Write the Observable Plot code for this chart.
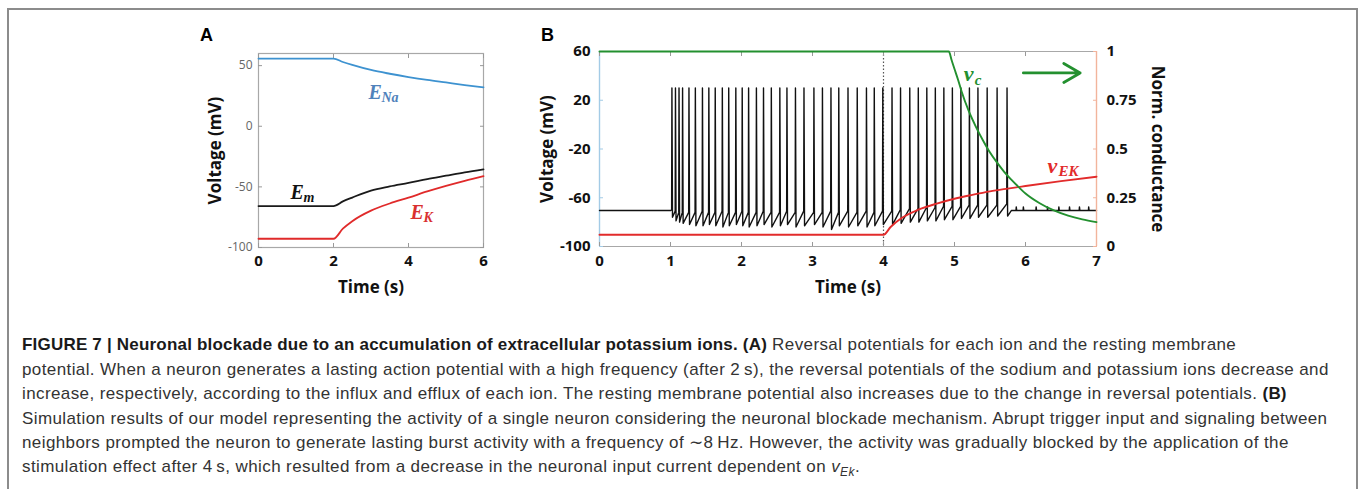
<!DOCTYPE html>
<html><head><meta charset="utf-8">
<script src="https://cdn.jsdelivr.net/npm/d3@7"></script>
<script src="https://cdn.jsdelivr.net/npm/@observablehq/plot@0.6"></script>
<style>
body{margin:0;background:#fff;width:1358px;height:489px;overflow:hidden;position:relative;font-family:"Liberation Sans",Arial,sans-serif;}
.abs{position:absolute}
#box{position:absolute;left:7px;top:8px;width:1347px;height:600px;border:2px solid #8c8c8c;border-bottom:none}
.letter{position:absolute;font:bold 18px "Liberation Sans",Arial,sans-serif;color:#000;line-height:20px}
.cap{position:absolute;left:22px;white-space:nowrap;font-size:17px;letter-spacing:0.4px;color:#333;line-height:20px}
.cap b{color:#1a1a1a;letter-spacing:0.2px}
svg{overflow:visible}
</style></head><body>
<div id="box"></div>
<div class="letter" style="left:200px;top:25px">A</div>
<div class="letter" style="left:541px;top:25px">B</div>
<div id="pa" class="abs" style="left:180px;top:20px;width:330px;height:280px"></div>
<div id="pb" class="abs" style="left:530px;top:20px;width:660px;height:280px"></div>
<div id="pc" class="abs" style="left:530px;top:20px;width:660px;height:280px"></div>
<div class="cap" style="top:335px"><b>FIGURE 7 | Neuronal blockade due to an accumulation of extracellular potassium ions. (A)</b> Reversal potentials for each ion and the resting membrane</div>
<div class="cap" style="top:360px">potential. When a neuron generates a lasting action potential with a high frequency (after 2&#8201;s), the reversal potentials of the sodium and potassium ions decrease and</div>
<div class="cap" style="top:384px">increase, respectively, according to the influx and efflux of each ion. The resting membrane potential also increases due to the change in reversal potentials. <b>(B)</b></div>
<div class="cap" style="top:409px">Simulation results of our model representing the activity of a single neuron considering the neuronal blockade mechanism. Abrupt trigger input and signaling between</div>
<div class="cap" style="top:433px">neighbors prompted the neuron to generate lasting burst activity with a frequency of &#8764;8&#8201;Hz. However, the activity was gradually blocked by the application of the</div>
<div class="cap" style="top:457px">stimulation effect after 4&#8201;s, which resulted from a decrease in the neuronal input current dependent on <i>v</i><sub style="font-size:12px"><i>Ek</i></sub>.</div>
<script>
// ---------- Panel A data ----------
const tA   = [0, 2, 2.25, 2.5, 3, 3.5, 4, 4.5, 5, 5.5, 6];
const eNa  = [55.8, 55.8, 53, 50.6, 46.4, 43.3, 40.6, 38.2, 36.1, 34, 32];
const eM   = [-65.8, -65.8, -62, -58.8, -53, -49.6, -46.7, -43.6, -40.8, -38, -35.5];
const eK   = [-92.8, -92.8, -84.5, -78.3, -69.6, -63.7, -58.9, -53.8, -49.2, -45, -41.2];
const xTicksA = [0, 2, 4, 6];
const yTicksA = [-100, -50, 0, 50];

// ---------- Panel B data ----------
const restV = -70.5;
const peakV = 30;
const spikeTimes = [1.02, 1.07, 1.12, 1.17, 1.26, 1.35, 1.45, 1.54, 1.63, 1.73,
  1.82, 1.92, 2.01, 2.10, 2.21, 2.31, 2.42, 2.54, 2.64, 2.76,
  2.88, 3.02, 3.14, 3.26, 3.37, 3.50, 3.63, 3.76, 3.87, 3.99,
  4.12, 4.24, 4.37, 4.49, 4.61, 4.73, 4.85, 4.97, 5.09, 5.21,
  5.33, 5.46, 5.60, 5.74];
const preV = [-70, -71, -72, -72, -72, -72, -71, -72, -72, -71,
  -72, -72, -71, -72, -72, -71, -72, -72, -71, -72,
  -71, -72, -72, -71, -72, -71, -72, -71, -72, -71,
  -71, -70, -69, -69, -68, -68, -67, -67, -67, -66,
  -66, -66, -66, -65];
const troughV = [-76, -79, -80, -81, -82, -83, -83, -82, -83, -84,
  -83, -82, -83, -84, -83, -82, -84, -83, -82, -84,
  -83, -82, -84, -86, -83, -84, -83, -84, -83, -82,
  -82, -81, -80, -80, -79, -79, -78, -78, -77, -77,
  -76, -76, -75, -75];
const spikeletTimes = [5.87, 5.97, 6.15, 6.31, 6.47, 6.62, 6.76, 6.89];
const spikeletV = -67.5;

const tC = [0, 4.92, 4.96, 5.0, 5.05, 5.1, 5.2, 5.3, 5.4, 5.5, 5.6, 5.7, 5.8, 5.9, 6.0, 6.2, 6.4, 6.6, 6.8, 7.0];
const vC = [1, 1, 0.955, 0.91, 0.855, 0.795, 0.695, 0.615, 0.545, 0.482, 0.43, 0.383, 0.343, 0.306, 0.272, 0.222, 0.185, 0.158, 0.139, 0.125];
const tE = [0, 4.0, 4.1, 4.25, 4.5, 4.75, 5.0, 5.25, 5.5, 5.75, 6.0, 6.5, 7.0];
const vEK = [0.06, 0.06, 0.10, 0.145, 0.19, 0.22, 0.245, 0.265, 0.283, 0.297, 0.31, 0.335, 0.358];
const blockT = 4;
const xTicksB = [0, 1, 2, 3, 4, 5, 6, 7];
const yTicksB = [-100, -60, -20, 20, 60];
const cTicksB = [0, 0.25, 0.5, 0.75, 1];

// ---------- helpers ----------
const rows = (ts, vs) => ts.map((t, i) => ({t, v: vs[i]}));
const trace = [{t: 0, v: restV}, {t: 1.0, v: restV}];
spikeTimes.forEach((ts, i) => {
  trace.push({t: ts - 0.004, v: preV[i]});
  trace.push({t: ts, v: peakV});
  trace.push({t: ts + 0.008, v: troughV[i]});
});
trace.push({t: 5.80, v: restV});
spikeletTimes.forEach(s => {
  trace.push({t: s - 0.004, v: restV});
  trace.push({t: s, v: spikeletV});
  trace.push({t: s + 0.006, v: restV});
});
trace.push({t: 7, v: restV});

const sans = "'Open Sans', 'DejaVu Sans', sans-serif";
const serif = "'Liberation Serif', 'DejaVu Serif', serif";
const baseStyle = {fontFamily: sans, fontSize: "14px", background: "transparent", overflow: "visible", color: "#111"};
const fmt = d => String(d);
const title = {text: d => d, fontSize: 17, fontWeight: "bold", fill: "#111", textAnchor: "middle", lineAnchor: "middle"};

// ---------- Panel A ----------
const A = Plot.plot({
  width: 330, height: 280, marginLeft: 78, marginRight: 27, marginTop: 33, marginBottom: 53,
  x: {domain: [0, 6], axis: null},
  y: {domain: [-100, 60], axis: null},
  style: baseStyle,
  marks: [
    Plot.frame({stroke: "#a8a8a8", strokeWidth: 1.2}),
    Plot.axisX(xTicksA, {anchor: "bottom", tickSize: -4, text: null, label: null, stroke: "#999"}),
    Plot.axisX(xTicksA, {anchor: "top", tickSize: -4, text: null, label: null, stroke: "#999"}),
    Plot.axisY(yTicksA, {anchor: "left", tickSize: -4, text: null, label: null, stroke: "#999"}),
    Plot.axisY(yTicksA, {anchor: "right", tickSize: -4, text: null, label: null, stroke: "#999"}),
    Plot.axisX(xTicksA, {anchor: "bottom", tickSize: 0, tickPadding: 8, label: null, tickFormat: fmt, fontSize: 15, fontWeight: "bold", fill: "#111"}),
    Plot.axisY(yTicksA, {anchor: "left", tickSize: 0, tickPadding: 6, label: null, tickFormat: fmt, fontSize: 12, fill: "#666"}),
    Plot.line(rows(tA, eNa), {x: "t", y: "v", stroke: "#3d92d0", strokeWidth: 1.8, curve: "monotone-x"}),
    Plot.line(rows(tA, eM), {x: "t", y: "v", stroke: "#1a1a1a", strokeWidth: 1.8, curve: "monotone-x"}),
    Plot.line(rows(tA, eK), {x: "t", y: "v", stroke: "#e02a2a", strokeWidth: 1.8, curve: "monotone-x"}),
    Plot.text(["E"], {x: 2.93, y: 27.8, text: d => d, textAnchor: "start", fontFamily: serif, fontStyle: "italic", fontWeight: "bold", fontSize: 20, fill: "#4f82bb"}),
    Plot.text(["Na"], {x: 2.93, y: 27.8, dx: 13, dy: 5, text: d => d, textAnchor: "start", fontFamily: serif, fontStyle: "italic", fontWeight: "bold", fontSize: 14, fill: "#4f82bb"}),
    Plot.text(["E"], {x: 0.85, y: -54.6, text: d => d, textAnchor: "start", fontFamily: serif, fontStyle: "italic", fontWeight: "bold", fontSize: 20, fill: "#111"}),
    Plot.text(["m"], {x: 0.85, y: -54.6, dx: 13, dy: 5, text: d => d, textAnchor: "start", fontFamily: serif, fontStyle: "italic", fontWeight: "bold", fontSize: 14, fill: "#111"}),
    Plot.text(["E"], {x: 4.05, y: -71, text: d => d, textAnchor: "start", fontFamily: serif, fontStyle: "italic", fontWeight: "bold", fontSize: 20, fill: "#d9302f"}),
    Plot.text(["K"], {x: 4.05, y: -71, dx: 13, dy: 5, text: d => d, textAnchor: "start", fontFamily: serif, fontStyle: "italic", fontWeight: "bold", fontSize: 14, fill: "#d9302f"}),
    Plot.text(["Time (s)"], {frameAnchor: "bottom", dy: 40, ...title}),
    Plot.text(["Voltage (mV)"], {frameAnchor: "left", dx: -43, rotate: -90, ...title})
  ]
});
document.getElementById("pa").append(A);

// ---------- Panel B (voltage) ----------
const mB = {width: 660, height: 280, marginLeft: 69, marginRight: 94, marginTop: 31, marginBottom: 54};
const B = Plot.plot({
  ...mB,
  x: {domain: [0, 7], axis: null},
  y: {domain: [-100, 60], axis: null},
  style: baseStyle,
  marks: [
    Plot.ruleY([60, -100], {stroke: "#a8a8a8", strokeWidth: 1.2}),
    Plot.ruleX([0], {stroke: "#a3cbe6", strokeWidth: 1.4}),
    Plot.ruleX([blockT], {stroke: "#555", strokeWidth: 1.2, strokeDasharray: "1.5,2"}),
    Plot.axisX(xTicksB, {anchor: "bottom", tickSize: -4, text: null, label: null, stroke: "#999"}),
    Plot.axisX(xTicksB, {anchor: "top", tickSize: -4, text: null, label: null, stroke: "#999"}),
    Plot.axisY(yTicksB, {anchor: "left", tickSize: -4, text: null, label: null, stroke: "#a3cbe6"}),
    Plot.axisX(xTicksB, {anchor: "bottom", tickSize: 0, tickPadding: 9, label: null, tickFormat: fmt, fontSize: 15, fontWeight: "bold", fill: "#111"}),
    Plot.axisY(yTicksB, {anchor: "left", tickSize: 0, tickPadding: 9, label: null, tickFormat: fmt, fontSize: 15, fontWeight: "bold", fill: "#111"}),
    Plot.line(trace, {x: "t", y: "v", stroke: "#111", strokeWidth: 1.4}),
    Plot.text(["Time (s)"], {frameAnchor: "bottom", dy: 41, ...title}),
    Plot.text(["Voltage (mV)"], {frameAnchor: "left", dx: -52, rotate: -90, ...title})
  ]
});
document.getElementById("pb").append(B);

// ---------- Panel B (conductance overlay) ----------
const green = "#23902f", red = "#e22b2b";
const C = Plot.plot({
  ...mB,
  x: {domain: [0, 7], axis: null},
  y: {domain: [0, 1], axis: null},
  style: baseStyle,
  marks: [
    Plot.ruleX([7], {stroke: "#f2b49c", strokeWidth: 1.4}),
    Plot.axisY(cTicksB, {anchor: "right", tickSize: -4, text: null, label: null, stroke: "#f2b49c"}),
    Plot.axisY(cTicksB, {anchor: "right", tickSize: 0, tickPadding: 10, label: null, tickFormat: fmt, fontSize: 15, fontWeight: "bold", fill: "#111"}),
    Plot.line(rows(tE, vEK), {x: "t", y: "v", stroke: red, strokeWidth: 1.9, curve: "monotone-x"}),
    Plot.line(rows(tC, vC), {x: "t", y: "v", stroke: green, strokeWidth: 1.9, curve: "monotone-x"}),
    Plot.arrow([0], {x1: 5.97, y1: 0.89, x2: 6.77, y2: 0.89, stroke: green, strokeWidth: 2.8, headLength: 11}),
    Plot.text(["v"], {x: 5.13, y: 0.885, text: d => d, textAnchor: "start", fontFamily: serif, fontStyle: "italic", fontWeight: "bold", fontSize: 22, fill: green}),
    Plot.text(["c"], {x: 5.13, y: 0.885, dx: 11, dy: 6, text: d => d, textAnchor: "start", fontFamily: serif, fontStyle: "italic", fontWeight: "bold", fontSize: 15, fill: green}),
    Plot.text(["v"], {x: 6.31, y: 0.415, text: d => d, textAnchor: "start", fontFamily: serif, fontStyle: "italic", fontWeight: "bold", fontSize: 22, fill: red}),
    Plot.text(["EK"], {x: 6.31, y: 0.415, dx: 11, dy: 6, text: d => d, textAnchor: "start", fontFamily: serif, fontStyle: "italic", fontWeight: "bold", fontSize: 15, fill: red}),
    Plot.text(["Norm. conductance"], {frameAnchor: "right", dx: 61, rotate: 90, ...title})
  ]
});
document.getElementById("pc").append(C);
</script>
</body></html>
